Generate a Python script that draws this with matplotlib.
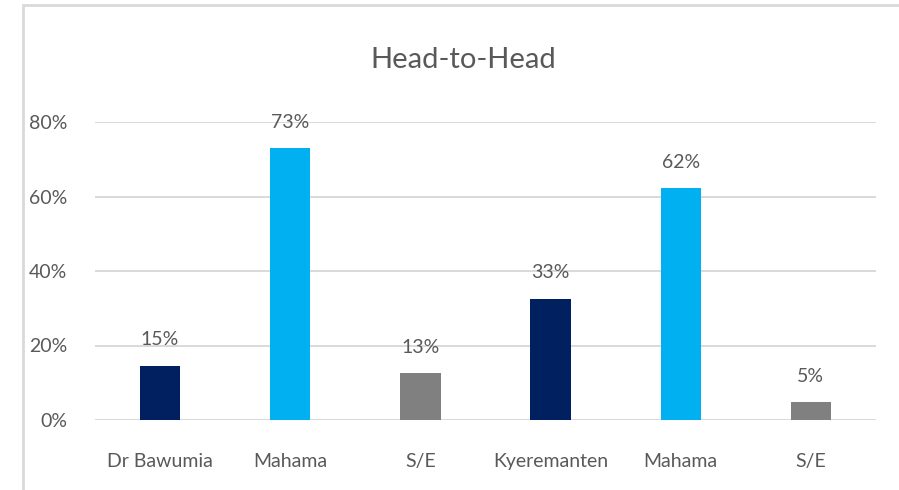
import matplotlib
matplotlib.use("Agg")
import matplotlib.pyplot as plt
from matplotlib.patches import Rectangle

# data
names = ["Dr Bawumia", "Mahama", "S/E", "Kyeremanten", "Mahama", "S/E"]
shares = [14.6, 73.0, 12.6, 32.6, 62.3, 4.8]
bar_colors = ["#002060", "#00B0F0", "#808080", "#002060", "#00B0F0", "#808080"]
y_ticks = [0, 20, 40, 60, 80]

plt.rcParams['font.family'] = ['Lato', 'DejaVu Sans']
text_col = "#595959"

fig = plt.figure(figsize=(8.99, 4.9), dpi=100)
ax = fig.add_axes([95 / 899, 1 - 420 / 490, 781 / 899, (420 - 122) / 490])

x = list(range(len(names)))
ax.bar(x, shares, width=0.31, color=bar_colors, zorder=3)
for xi, v in zip(x, shares):
    ax.text(xi, v + 4.6, f"{round(v):d}%", ha="center", va="bottom",
            fontsize=14, color=text_col)

ax.set_xlim(-0.5, len(names) - 0.5)
ax.set_ylim(0, 80)
ax.set_yticks(y_ticks)
ax.set_yticklabels([f"{t}%" for t in y_ticks])
ax.set_xticks(x)
ax.set_xticklabels(names)
ax.tick_params(axis="both", length=0, labelsize=14, colors=text_col)
ax.tick_params(axis="x", pad=24)
ax.tick_params(axis="y", pad=20)
ax.grid(axis="y", color="#D9D9D9", linewidth=1.4, zorder=0)
for s in ax.spines.values():
    s.set_visible(False)

fig.text(463 / 899, 1 - 60 / 490, "Head-to-Head", ha="center", va="center",
         fontsize=21, color=text_col)

# chart-area frame, cut off on the right and bottom
fig.patches.append(Rectangle((23 / 899, -0.1), 1.2, 1 - 5 / 490 + 0.1,
                             transform=fig.transFigure, fill=False,
                             edgecolor="#D9D9D9", linewidth=2))

fig.savefig("out.png", dpi=100)
